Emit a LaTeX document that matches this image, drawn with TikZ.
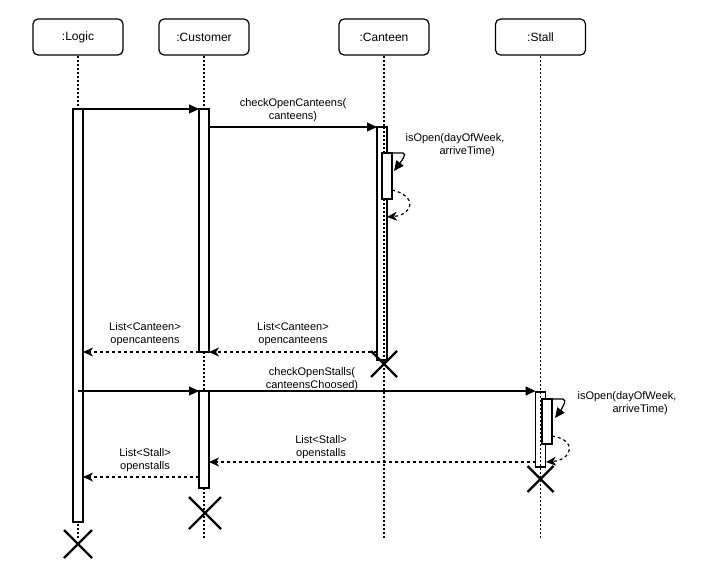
\documentclass[tikz,border=0pt]{standalone}
\usepackage{fontspec}
\setmainfont{Liberation Sans}
\usetikzlibrary{arrows.meta,calc,shapes.misc}
\begin{document}
\begin{tikzpicture}[x=1pt,y=-1pt,
 hdr/.style={draw, line width=1.2pt, rounded corners=5pt, minimum width=90pt, minimum height=36pt, inner sep=0pt, font=\fontsize{12}{14}\selectfont},
 life/.style={line width=1.3pt, dash pattern=on 2pt off 2pt},
 act/.style={draw, fill=white, line width=1.2pt, minimum width=10pt, inner sep=0pt, outer sep=0pt},
 msg/.style={line width=1.2pt, -{Triangle[length=10pt,width=9pt]}},
 ret/.style={line width=1.2pt, dash pattern=on 3pt off 3pt, -{Stealth[length=10pt,width=9pt,inset=3pt]}},
 lbl/.style={font=\fontsize{11}{13}\selectfont, align=center, inner sep=0pt},
 kill/.style={draw, cross out, line width=2.4pt, inner sep=0pt, outer sep=0pt}]
\useasboundingbox (0,0) rectangle (725,585);
% headers
\node[hdr] (logic) at (78,37) {:Logic};
\node[hdr] (cust) at (204,37) {:Customer};
\node[hdr] (cant) at (384,37) {:Canteen};
\node[hdr] (stall) at (540.5,37) {:Stall};
% lifeline ends
\coordinate (logE) at (78,538);
\coordinate (cusE) at (204,538);
\coordinate (canE) at (384,538);
\coordinate (staE) at (540.5,538);
\draw[life] (logic.south) -- (logE);
\draw[life] (cust.south) -- (cusE);
\draw[life] (cant.south) -- (canE);
\draw[life] (stall.south) -- (staE);
% activations
\node[act, minimum height=413pt] (logA) at (78,315.5) {};
\node[act, minimum height=243pt] (cusA1) at (204,230.5) {};
\node[act, minimum height=97pt] (cusA2) at (204,439.5) {};
\node[act, minimum height=233pt] (canA) at (382,243.5) {};
\draw[life] (canA.north -| cant.south) -- (canA.south -| cant.south);
\node[act, minimum height=46pt] (canB) at (387,176) {};
\node[act, minimum height=75pt] (staA) at (540.5,429.5) {};
\draw[life] (staA.north -| stall.south) -- (staA.south -| stall.south);
\node[act, minimum height=45pt] (staB) at (547,421.5) {};
% helper coordinates
\coordinate (y352) at (0,352);
\coordinate (y462) at (0,462);
\coordinate (y477) at (0,477);
\coordinate (logS) at (78,391);
\coordinate (canS) at ($(canB.north east)+(2,18)$);
\coordinate (canR1) at ($(canB.south east)+(0,-9)$);
\coordinate (canR2) at (387,217);
\coordinate (staS) at ($(staB.north east)+(3,19)$);
\coordinate (staR1) at ($(staB.south east)+(0,-8)$);
\coordinate (staR2) at (546,462);
% messages
\draw[msg] (logA.north east) -- (cusA1.north west);
\draw[msg] (cusA1.east |- canA.north) -- (canA.north west);
\node[lbl] (m2) at (293,110) {checkOpenCanteens(\\canteens)};
\draw[msg] (canB.north east) -- ++(11,0) .. controls +(5,0) and +(6,-8) .. (canS);
\node[lbl, align=left] (m3) at (455,145) {isOpen(dayOfWeek,\\\hspace*{34pt}arriveTime)};
\draw[ret] (canR1) .. controls +(26,6) and +(26,-2) .. (canR2);
\draw[ret] (canA.west |- y352) -- (cusA1.east |- y352);
\node[lbl] (r1) at (293,334) {List<Canteen>\\opencanteens};
\draw[ret] (cusA1.south west) -- (logA.east |- cusA1.south);
\node[lbl] (r2) at (145,334) {List<Canteen>\\opencanteens};
\node[kill, minimum size=26pt] (canX) at (384,364) {};
\draw[msg] (logS) -- (cusA2.north west);
\draw[msg] (cusA2.north east) -- (staA.west |- cusA2.north);
\node[lbl] (m5) at (312,379) {checkOpenStalls(\\canteensChoosed)};
\draw[msg] (staB.north east) -- ++(11,0) .. controls +(5,0) and +(6,-8) .. (staS);
\node[lbl, align=left] (m6) at (627,403) {isOpen(dayOfWeek,\\\hspace*{35pt}arriveTime)};
\draw[ret] (staR1) .. controls +(26,4) and +(26,-2) .. (staR2);
\draw[ret] (staA.west |- y462) -- (cusA2.east |- y462);
\node[lbl] (r3) at (321,447) {List<Stall>\\openstalls};
\draw[ret] (cusA2.west |- y477) -- (logA.east |- y477);
\node[lbl] (r4) at (145,460) {List<Stall>\\openstalls};
\node[kill, minimum size=26pt] (staX) at (540.5,479) {};
\node[kill, minimum size=32pt] (cusX) at (205,513) {};
\node[kill, minimum size=28pt] (logX) at (78,544) {};
\end{tikzpicture}
\end{document}
